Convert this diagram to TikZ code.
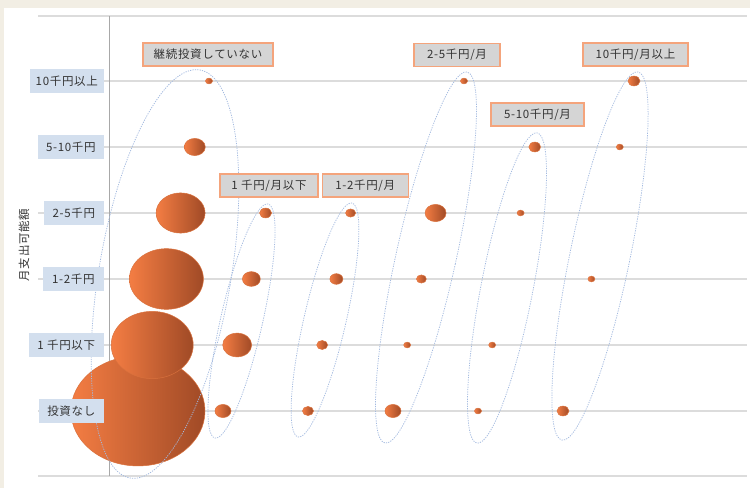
\documentclass[tikz,border=0pt]{standalone}
\usepackage{fontspec}
\newfontfamily\jpfont[LetterSpace=6]{Noto Sans CJK JP}
\usetikzlibrary{positioning}
\definecolor{beige}{HTML}{F2EEE4}
\definecolor{gridgray}{HTML}{DCDCDC}
\definecolor{axisgray}{HTML}{A8A8A8}
\definecolor{rowblue}{HTML}{D3DFEE}
\definecolor{headgray}{HTML}{D5D5D5}
\definecolor{headedge}{HTML}{F4A47C}
\definecolor{bublight}{HTML}{F47D43}
\definecolor{bubdark}{HTML}{A04A26}
\definecolor{bubedge}{HTML}{D9713D}
\definecolor{loopblue}{HTML}{A3BAE0}
\definecolor{textgray}{HTML}{333333}
\tikzset{
  rowlabel/.style={fill=rowblue, text=textgray, anchor=east,
    font=\jpfont\fontsize{11.5}{13}\selectfont, minimum height=24pt, inner sep=0pt},
  header/.style={fill=headgray, draw=headedge, line width=1.2pt, text=textgray,
    font=\jpfont\fontsize{11.5}{13}\selectfont, minimum height=23pt, inner sep=0pt},
  bubble/.style={left color=bublight, right color=bubdark, draw=bubedge, line width=0.5pt},
  group/.style={draw=loopblue, line width=0.75pt, dash pattern=on 1.2pt off 1.2pt},
  gridline/.style={draw=gridgray, line width=1.5pt}
}
\begin{document}
\begin{tikzpicture}[x=1pt, y=1pt]
        \useasboundingbox (0,0) rectangle (750,488);
        % Background
        \fill[beige] (0,0) rectangle (750,488);
        \fill[white] (4,0) rectangle (750,480);
        % Horizontal lines
        \foreach \r in {0,...,5}
            \draw[gridline] (38,{77+66*\r}) -- (747,{77+66*\r});
        \draw[gridline] (38,472) -- (747,472);
        \draw[gridline] (38,12) -- (747,12);
        % Vertical axis
        \draw[axisgray, line width=1pt] (109,12) -- (109,472);
        % Bubbles: column/row/x radius
        \foreach \c/\r/\s in {0/0/67, 0/1/41, 0/2/37, 0/3/24.5, 0/4/10.5, 0/5/3.5,
                1/0/8, 1/1/14.5, 1/2/9, 1/3/6,
                2/0/5.5, 2/1/5.5, 2/2/6.5, 2/3/5,
                3/0/8, 3/1/3.5, 3/2/5, 3/3/10.5, 3/5/3.5,
                4/0/3.5, 4/1/3.5, 4/3/3.5, 4/4/6,
                5/0/6, 5/2/3.5, 5/4/3.5, 5/5/6}
            \draw[bubble] ({138+85*\c+14.2*\r},{77+66*\r}) ellipse ({\s} and {0.82*\s});
        % Dotted groups
        \draw[group, rotate around={-9.7:(165,214)}] (165,214) ellipse (66 and 207);
        \draw[group, rotate around={-12.8:(241.5,167)}] (241.5,167) ellipse (21 and 120);
        \draw[group, rotate around={-13:(325,168)}] (325,168) ellipse (21 and 120);
        \draw[group, rotate around={-12.5:(426,230.5)}] (426,230.5) ellipse (30 and 190);
        \draw[group, rotate around={-11:(507,200)}] (507,200) ellipse (26 and 158);
        \draw[group, rotate around={-11.7:(600,232)}] (600,232) ellipse (30 and 188);
        % Row labels
        \foreach \name/\txt/\w/\r in {none/投資なし/65/0, low/1 千円以下/75/1, onetwo/1-2千円/61/2,
                twofive/2-5千円/60/3, fiveten/5-10千円/66/4, ten/10千円以上/74/5}
            \node[rowlabel, minimum width=\w] (\name) at (104,{77+66*\r}) {\txt};
        \node[rotate=90, text=textgray, font=\jpfont\fontsize{11.5}{13}\selectfont] (ylabel) at (24,243) {月支出可能額};
        % Column headers
        \node[header, minimum width=130] (hstop) at (208,433.5) {継続投資していない};
        \node[header, minimum width=98] (hlow) at (269,302.5) {1 千円/月以下};
        \node[header, minimum width=86, right=3 of hlow] (honetwo) {1-2千円/月};
        \node[header, minimum width=86] (htwofive) at (457,433) {2-5千円/月};
        \node[header, minimum width=93] (hfiveten) at (537.5,373.5) {5-10千円/月};
        \node[header, minimum width=105] (hten) at (635.5,433.5) {10千円/月以上};
\end{tikzpicture}
\end{document}
